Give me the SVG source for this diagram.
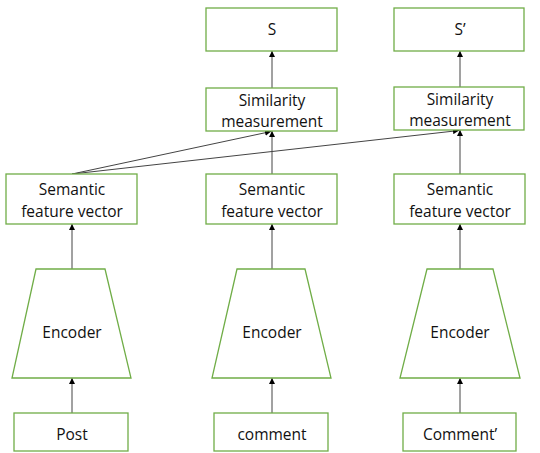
<svg xmlns="http://www.w3.org/2000/svg" width="540" height="453" viewBox="0 0 540 453">
<defs>
<marker id="ah" viewBox="0 0 10 10" refX="10" refY="5" markerWidth="6" markerHeight="6" orient="auto" markerUnits="userSpaceOnUse">
<path d="M0,0 L10,5 L0,10 z" fill="#000"/>
</marker>
</defs>
<style>
.box{fill:#fff;stroke:#70AD47;stroke-width:1.3}
.t{font-family:"Open Sans","Liberation Sans",sans-serif;font-size:15.5px;fill:#111;text-anchor:middle}
.c{stroke:#444;stroke-width:1;fill:none;marker-end:url(#ah)}
</style>
<rect width="540" height="453" fill="#fff"/>
<g id="connectors">
<line class="c" x1="72" y1="413" x2="72" y2="378"/>
<line class="c" x1="272" y1="413" x2="272" y2="378"/>
<line class="c" x1="460" y1="413" x2="460" y2="378"/>
<line class="c" x1="72" y1="269" x2="72" y2="224"/>
<line class="c" x1="272" y1="269" x2="272" y2="224"/>
<line class="c" x1="460" y1="269" x2="460" y2="224"/>
<line class="c" x1="272" y1="174" x2="272" y2="131"/>
<line class="c" x1="460" y1="174" x2="460" y2="130"/>
<line class="c" x1="272" y1="88" x2="272" y2="51"/>
<line class="c" x1="460" y1="87" x2="460" y2="51"/>
<line class="c" x1="72" y1="174" x2="271" y2="131.5"/>
<line class="c" x1="72" y1="174" x2="459" y2="130.5"/>
</g>
<g id="S"><rect class="box" x="206" y="8" width="131" height="43"/><text class="t" x="272" y="35">S</text></g>
<g id="S2"><rect class="box" x="394" y="8" width="130" height="43"/><text class="t" x="460" y="35">S’</text></g>
<g id="sim1"><rect class="box" x="206" y="88" width="131" height="43"/><text class="t" x="272" y="106">Similarity</text><text class="t" x="272" y="127">measurement</text></g>
<g id="sim2"><rect class="box" x="394" y="87" width="130" height="43"/><text class="t" x="460" y="105">Similarity</text><text class="t" x="460" y="126">measurement</text></g>
<g id="sem1"><rect class="box" x="6" y="174" width="131" height="50"/><text class="t" x="72" y="195">Semantic</text><text class="t" x="72" y="217">feature vector</text></g>
<g id="sem2"><rect class="box" x="206" y="174" width="131" height="50"/><text class="t" x="272" y="195">Semantic</text><text class="t" x="272" y="217">feature vector</text></g>
<g id="sem3"><rect class="box" x="394" y="174" width="131" height="50"/><text class="t" x="460" y="195">Semantic</text><text class="t" x="460" y="217">feature vector</text></g>
<g id="enc1"><polygon class="box" points="36,269 105,269 131,378 12,378"/><text class="t" x="72" y="338">Encoder</text></g>
<g id="enc2"><polygon class="box" points="237,269 305,269 331,378 212,378"/><text class="t" x="272" y="338">Encoder</text></g>
<g id="enc3"><polygon class="box" points="427,269 493,269 520,378 400,378"/><text class="t" x="460" y="338">Encoder</text></g>
<g id="post"><rect class="box" x="14" y="413" width="114" height="38"/><text class="t" x="72" y="440">Post</text></g>
<g id="comment"><rect class="box" x="214" y="413" width="114" height="38"/><text class="t" x="272" y="440">comment</text></g>
<g id="comment2"><rect class="box" x="403" y="413" width="113" height="38"/><text class="t" x="460" y="440">Comment’</text></g>
</svg>
